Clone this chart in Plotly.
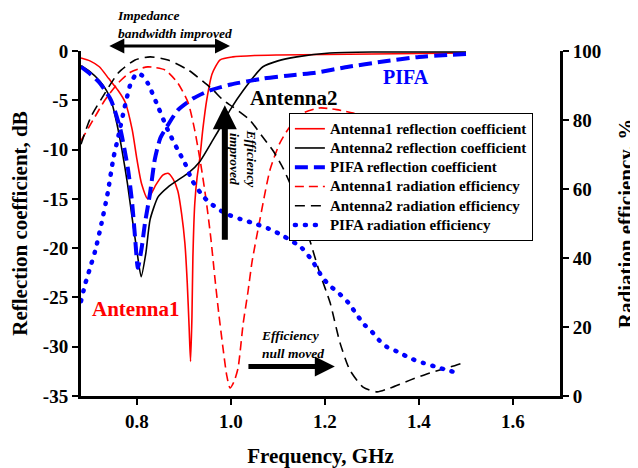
import plotly.graph_objects as go

# ---------------- data ----------------
ant1_s11_f = [0.681, 0.70, 0.72, 0.74, 0.76, 0.775, 0.79, 0.80, 0.81, 0.823, 0.84, 0.855, 0.866,
              0.877, 0.887, 0.895, 0.902, 0.907, 0.911, 0.914, 0.917, 0.919, 0.923, 0.928, 0.934,
              0.940, 0.949, 0.96, 0.977, 1.004, 1.05, 1.1, 1.2, 1.3, 1.4, 1.5]
ant1_s11 = [-0.7, -1.0, -1.6, -2.8, -4.0, -5.2, -8.0, -11.0, -13.5, -15.0, -13.6, -12.6, -12.4,
            -13.0, -14.2, -16.5, -19.5, -23.5, -28.0, -31.5, -27.0, -21.0, -15.5, -12.8, -10.8,
            -8.0, -4.8, -2.3, -0.9, -0.6, -0.45, -0.4, -0.35, -0.3, -0.25, -0.2]

ant2_s11_f = [0.681, 0.70, 0.72, 0.735, 0.745, 0.757, 0.768, 0.78, 0.79, 0.80, 0.809, 0.819, 0.828,
              0.845, 0.866, 0.887, 0.909, 0.934, 0.962, 0.983, 0.998, 1.026, 1.068, 1.10, 1.14,
              1.21, 1.3, 1.4, 1.5]
ant2_s11 = [-1.5, -2.1, -3.0, -4.0, -5.0, -7.3, -10.0, -13.5, -17.0, -20.3, -22.9, -20.5, -17.1,
            -14.8, -13.8, -13.1, -12.4, -11.2, -9.0, -7.3, -6.0, -4.0, -1.6, -1.0, -0.6,
            -0.2, -0.1, -0.1, -0.1]

pifa_s11_f = [0.681, 0.70, 0.72, 0.745, 0.765, 0.781, 0.79, 0.796, 0.802, 0.81, 0.817, 0.828, 0.838,
              0.85, 0.866, 0.887, 0.92, 0.955, 1.0, 1.068, 1.12, 1.18, 1.25, 1.32, 1.40, 1.50]
pifa_s11 = [-1.6, -2.3, -3.2, -5.0, -8.0, -12.0, -15.5, -18.9, -22.0, -20.0, -17.5, -14.4, -11.0,
            -8.8, -7.5, -6.0, -4.8, -4.0, -3.4, -2.8, -2.5, -2.2, -1.6, -1.1, -0.6, -0.3]

ant1_eff_f = [0.681, 0.711, 0.732, 0.76, 0.787, 0.823, 0.86, 0.887, 0.909, 0.923, 0.936, 0.947,
              0.957, 0.966, 0.974, 0.983, 0.991, 0.998, 1.006, 1.015, 1.026, 1.036, 1.045, 1.06,
              1.083, 1.104, 1.125, 1.153, 1.189, 1.225, 1.26, 1.3, 1.4, 1.5]
ant1_eff = [74, 81, 85.8, 90.7, 93.9, 95.4, 94.5, 90.7, 85, 77, 67, 57,
            46, 34, 24, 14, 6, 2.3, 4, 8, 21, 30, 39, 50,
            65.5, 73.3, 78, 82, 83.5, 83, 82, 80, 76, 72]

ant2_eff_f = [0.681, 0.702, 0.732, 0.76, 0.796, 0.828, 0.866, 0.909, 0.945, 0.962, 0.983, 1.004,
              1.04, 1.068, 1.09, 1.111, 1.14, 1.168, 1.189, 1.211, 1.232, 1.253, 1.281, 1.311,
              1.338, 1.381, 1.423, 1.466, 1.5]
ant2_eff = [73, 80.9, 87.8, 93.6, 97.4, 98.3, 97.4, 94.5, 90.7, 88.7, 85.8, 83.8,
            80, 75, 71, 66, 57, 45, 35.6, 27, 15.4, 7.5, 2.6, 1.2,
            2.3, 4.6, 6.7, 8.4, 9.9]

pifa_eff_f = [0.681, 0.69, 0.70, 0.711, 0.723, 0.738, 0.75, 0.76, 0.774, 0.787, 0.80, 0.81, 0.823,
              0.845, 0.866, 0.887, 0.902, 0.917, 0.94, 0.955, 0.987, 1.02, 1.05, 1.08, 1.11, 1.15,
              1.174, 1.194, 1.21, 1.228, 1.25, 1.268, 1.285, 1.30, 1.315, 1.332, 1.36, 1.38,
              1.409, 1.445, 1.489]
pifa_eff = [27.5, 32.5, 37, 42, 49, 59, 69, 75, 83.8, 90.7, 93.5, 93, 90.7,
            83.8, 77, 71.3, 67.5, 62.6, 58, 56, 53, 51.3, 50, 48.5, 46.5, 43,
            39, 34.5, 32, 30, 27, 23.5, 20.5, 18.6, 16.2, 14.2, 12.5, 11,
            9.6, 8.1, 6.4]

x_ticks = [0.8, 1.0, 1.2, 1.4, 1.6]
x_ticktext = ["0.8", "1.0", "1.2", "1.4", "1.6"]
y_ticks = [0, -5, -10, -15, -20, -25, -30, -35]
y_ticktext = ["0", "-5", "-10", "-15", "-20", "-25", "-30", "-35"]
y2_ticks = [0, 20, 40, 60, 80, 100]

names = ["Antenna1 reflection coefficient", "Antenna2 reflection coefficient",
         "PIFA reflection coefficient", "Antenna1 radiation efficiency",
         "Antenna2 radiation efficiency", "PIFA radiation efficiency"]

FONT = "Liberation Serif, Times New Roman, serif"
RED, BLUE, BLACK = "#FF0000", "#0000FF", "#000000"


def leg(name):
    return '<span style="font-size:15px">' + name + '</span>'


fig = go.Figure()
fig.add_trace(go.Scatter(x=ant1_s11_f, y=ant1_s11, name=leg(names[0]), mode="lines",
                         line=dict(color=RED, width=1.6, shape="spline", smoothing=0.6)))
fig.add_trace(go.Scatter(x=ant2_s11_f, y=ant2_s11, name=leg(names[1]), mode="lines",
                         line=dict(color=BLACK, width=1.6, shape="spline", smoothing=0.6)))
fig.add_trace(go.Scatter(x=pifa_s11_f, y=pifa_s11, name=leg(names[2]), mode="lines",
                         line=dict(color=BLUE, width=4, dash="13px,6px", shape="spline", smoothing=0.6)))
fig.add_trace(go.Scatter(x=ant1_eff_f, y=ant1_eff, name=leg(names[3]), mode="lines", yaxis="y2",
                         line=dict(color=RED, width=1.6, dash="9px,5px", shape="spline", smoothing=0.6)))
fig.add_trace(go.Scatter(x=ant2_eff_f, y=ant2_eff, name=leg(names[4]), mode="lines", yaxis="y2",
                         line=dict(color=BLACK, width=1.6, dash="10px,6px", shape="spline", smoothing=0.6)))
fig.add_trace(go.Scatter(x=pifa_eff_f, y=pifa_eff, name=leg(names[5]), mode="lines", yaxis="y2",
                         line=dict(color=BLUE, width=4.5, dash="1px,9px", shape="spline", smoothing=0.6)))

axis_common = dict(showline=True, linecolor="black", linewidth=3, ticks="outside",
                   ticklen=6, tickwidth=2, tickcolor="black", showgrid=False, zeroline=False,
                   automargin=False,
                   tickfont=dict(family=FONT, size=19, color="black", weight="bold"))

# the page body adds an 8 px offset, so the figure is 8 px smaller on each side
fig.update_layout(
    width=630, height=460,
    margin=dict(l=73, r=78, t=43, b=72),
    paper_bgcolor="white", plot_bgcolor="white",
    font=dict(family=FONT, color="black"),
    xaxis=dict(range=[0.681, 1.7], tickvals=x_ticks, ticktext=x_ticktext,
               title=dict(text="Frequency, GHz", standoff=18,
                          font=dict(family=FONT, size=21, weight="bold")),
               **axis_common),
    yaxis=dict(range=[-35, 0], tickvals=y_ticks, ticktext=y_ticktext,
               title=dict(text="Reflection coefficient, dB", standoff=12,
                          font=dict(family=FONT, size=21, weight="bold")),
               **axis_common),
    yaxis2=dict(range=[0, 100], tickvals=y2_ticks, overlaying="y", side="right",
                title=dict(text="Radiation efficiency, %", standoff=22,
                           font=dict(family=FONT, size=21, weight="bold")),
                **axis_common),
    legend=dict(x=0.434, y=0.82, xanchor="left", yanchor="top", bgcolor="white",
                bordercolor="black", borderwidth=1,
                font=dict(family=FONT, size=12.5, color="black", weight="bold")),
    showlegend=True,
)

ann_font = dict(family=FONT, size=13.5, color="black", weight="bold", style="italic")
annotations = [
    # impedance bandwidth text + double arrow
    dict(text="Impedance<br>bandwidth improved", xref="x", yref="paper", x=0.753, y=1.078,
         xanchor="left", yanchor="middle", align="left", showarrow=False, font=ann_font),
    dict(text="", xref="x", yref="paper", x=0.998, y=1.0145, axref="x", ax=0.738, ay=0,
         showarrow=True, arrowside="end+start", arrowhead=2, arrowsize=1, arrowwidth=3,
         arrowcolor="black"),
    # efficiency improved
    dict(text="Efficiency<br>improved", xref="x", yref="y", x=1.0255, y=-11.0, textangle=90,
         showarrow=False, font=ann_font, align="center"),
    dict(text="", xref="x", yref="y", x=0.987, y=-5.5, axref="x", ayref="y", ax=0.987, ay=-19.3,
         showarrow=True, arrowhead=2, arrowsize=0.8, arrowwidth=6, arrowcolor="black"),
    # efficiency null moved
    dict(text="Efficiency<br>null moved", xref="x", yref="y", x=1.0596, y=-29.8,
         xanchor="left", yanchor="middle", align="left", showarrow=False, font=ann_font),
    dict(text="", xref="x", yref="y", x=1.221, y=-32.0, axref="x", ayref="y", ax=1.034, ay=-32.0,
         showarrow=True, arrowhead=2, arrowsize=0.8, arrowwidth=5, arrowcolor="black"),
    # curve labels
    dict(text="Antenna1", xref="x", yref="y", x=0.797, y=-26.2, showarrow=False,
         font=dict(family=FONT, size=21, color=RED, weight="bold")),
    dict(text="Antenna2", xref="x", yref="y", x=1.135, y=-4.77, showarrow=False,
         font=dict(family=FONT, size=21, color=BLACK, weight="bold")),
    dict(text="PIFA", xref="x", yref="y", x=1.373, y=-2.64, showarrow=False,
         font=dict(family=FONT, size=20, color=BLUE, weight="bold")),
]
fig.update_layout(annotations=annotations)

post = """
var gd = document.getElementById('{plot_id}');
function roundDots(){
  gd.querySelectorAll('path.js-line').forEach(function(p){
    var d = (p.style.strokeDasharray || '').replace(/\\s/g, '');
    if (d === '1px,9px' || d === '1,9') { p.style.strokeLinecap = 'round'; }
  });
}
roundDots();
gd.on && gd.on('plotly_afterplot', roundDots);
"""
fig.write_html("out.html", post_script=post)
